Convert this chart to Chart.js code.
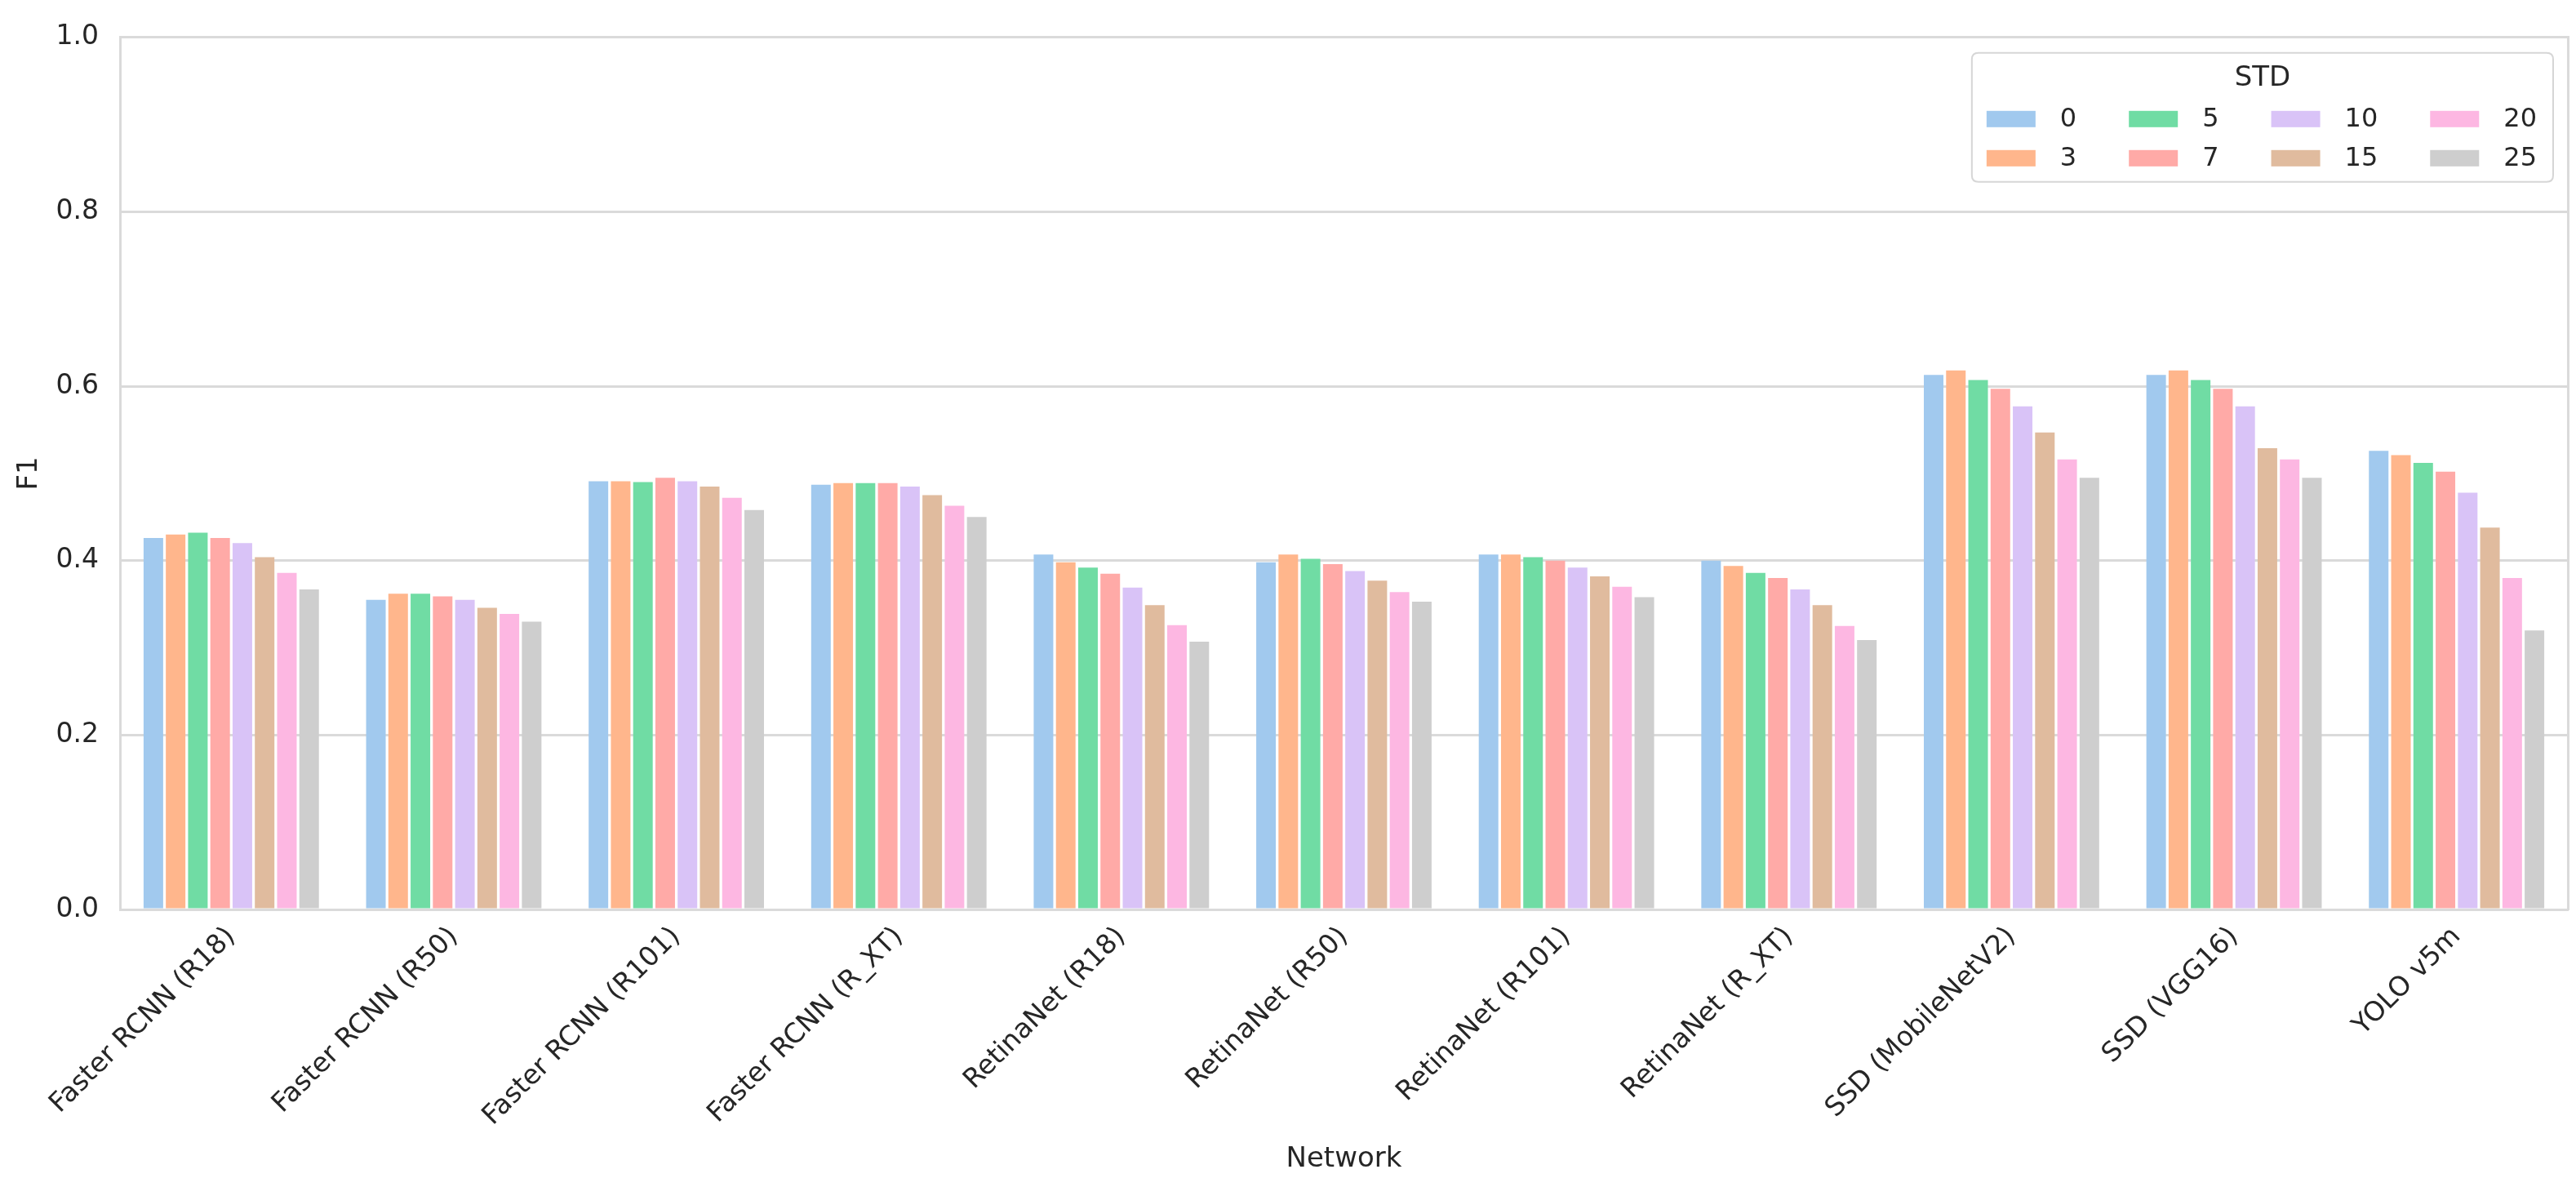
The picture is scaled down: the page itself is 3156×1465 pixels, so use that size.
<!DOCTYPE html>
<html>
<head>
<meta charset="utf-8">
<script src="https://cdn.jsdelivr.net/npm/chart.js@4"></script>
<style>
  html, body { margin: 0; padding: 0; background: #ffffff; }
  #wrap { width: 3156px; height: 1465px; }
</style>
</head>
<body>
<div id="wrap"><canvas id="c" width="3156" height="1465"></canvas></div>
<script>
const categories = ['Faster RCNN (R18)', 'Faster RCNN (R50)', 'Faster RCNN (R101)', 'Faster RCNN (R_XT)',
  'RetinaNet (R18)', 'RetinaNet (R50)', 'RetinaNet (R101)', 'RetinaNet (R_XT)',
  'SSD (MobileNetV2)', 'SSD (VGG16)', 'YOLO v5m'];
const stdLevels = ['0', '3', '5', '7', '10', '15', '20', '25'];
const yTicks = [0.0, 0.2, 0.4, 0.6, 0.8, 1.0];

const std0  = [0.426, 0.355, 0.491, 0.487, 0.407, 0.398, 0.407, 0.400, 0.613, 0.613, 0.526];
const std3  = [0.430, 0.362, 0.491, 0.489, 0.398, 0.407, 0.407, 0.394, 0.618, 0.618, 0.521];
const std5  = [0.432, 0.362, 0.490, 0.489, 0.392, 0.402, 0.404, 0.386, 0.607, 0.607, 0.512];
const std7  = [0.426, 0.359, 0.495, 0.489, 0.385, 0.396, 0.400, 0.380, 0.597, 0.597, 0.502];
const std10 = [0.420, 0.355, 0.491, 0.485, 0.369, 0.388, 0.392, 0.367, 0.577, 0.577, 0.478];
const std15 = [0.404, 0.346, 0.485, 0.475, 0.349, 0.377, 0.382, 0.349, 0.547, 0.529, 0.438];
const std20 = [0.386, 0.339, 0.472, 0.463, 0.326, 0.364, 0.370, 0.325, 0.516, 0.516, 0.380];
const std25 = [0.367, 0.330, 0.458, 0.450, 0.307, 0.353, 0.358, 0.309, 0.495, 0.495, 0.320];

const seriesValues = [std0, std3, std5, std7, std10, std15, std20, std25];
const palette = ['#a1c9ee', '#ffb68c', '#70dca4', '#ffaaa7', '#d9c3f7', '#e0bb9e', '#fdb7e2', '#cecece'];

const FONT = "'DejaVu Sans', 'Liberation Sans', sans-serif";
const TEXT = '#262626';
const GRID = '#dadada';

const datasets = stdLevels.map((lvl, i) => ({
  label: lvl,
  data: seriesValues[i],
  backgroundColor: palette[i],
  borderWidth: 0,
  categoryPercentage: 0.8,
  barPercentage: 0.88
}));

// Legend drawn inside the plot area (matplotlib-style, 4 columns, column-major)
const insideLegend = {
  id: 'insideLegend',
  afterDatasetsDraw(chart) {
    const ctx = chart.ctx;
    const ds = chart.data.datasets;
    const ncol = 4, nrow = Math.ceil(ds.length / ncol);
    const labelFont = '32px ' + FONT;
    const titleFont = '34px ' + FONT;
    const handleW = 60, handleH = 20, textPad = 30, colSpace = 64;
    ctx.save();
    ctx.font = labelFont;
    const colWidths = [];
    for (let c = 0; c < ncol; c++) {
      let w = 0;
      for (let r = 0; r < nrow; r++) {
        const idx = c * nrow + r;
        if (idx < ds.length) w = Math.max(w, ctx.measureText(ds[idx].label).width);
      }
      colWidths.push(w);
    }
    const boxRight = chart.chartArea.right - 18;
    const boxTop = chart.chartArea.top + 19;
    const boxBottom = boxTop + 158;
    let contentW = 0;
    colWidths.forEach((w, c) => { contentW += handleW + textPad + w + (c < ncol - 1 ? colSpace : 0); });
    const boxW = contentW + 18 + 20;
    const boxLeft = boxRight - boxW;
    // box
    const rad = 8;
    ctx.beginPath();
    ctx.moveTo(boxLeft + rad, boxTop);
    ctx.lineTo(boxRight - rad, boxTop);
    ctx.quadraticCurveTo(boxRight, boxTop, boxRight, boxTop + rad);
    ctx.lineTo(boxRight, boxBottom - rad);
    ctx.quadraticCurveTo(boxRight, boxBottom, boxRight - rad, boxBottom);
    ctx.lineTo(boxLeft + rad, boxBottom);
    ctx.quadraticCurveTo(boxLeft, boxBottom, boxLeft, boxBottom - rad);
    ctx.lineTo(boxLeft, boxTop + rad);
    ctx.quadraticCurveTo(boxLeft, boxTop, boxLeft + rad, boxTop);
    ctx.closePath();
    ctx.fillStyle = 'rgba(255,255,255,0.85)';
    ctx.fill();
    ctx.strokeStyle = '#d6d6d6';
    ctx.lineWidth = 2;
    ctx.stroke();
    // title
    ctx.fillStyle = TEXT;
    ctx.font = titleFont;
    ctx.textAlign = 'center';
    ctx.textBaseline = 'middle';
    ctx.fillText('STD', (boxLeft + boxRight) / 2, boxTop + 31);
    // items
    ctx.font = labelFont;
    ctx.textAlign = 'left';
    let x = boxLeft + 18;
    const rowY = [boxTop + 81, boxTop + 129];
    for (let c = 0; c < ncol; c++) {
      for (let r = 0; r < nrow; r++) {
        const idx = c * nrow + r;
        if (idx >= ds.length) continue;
        ctx.fillStyle = ds[idx].backgroundColor;
        ctx.fillRect(x, rowY[r] - handleH / 2, handleW, handleH);
        ctx.fillStyle = TEXT;
        ctx.fillText(ds[idx].label, x + handleW + textPad, rowY[r] + 1);
      }
      x += handleW + textPad + colWidths[c] + colSpace;
    }
    ctx.restore();
  }
};

new Chart(document.getElementById('c'), {
  type: 'bar',
  data: { labels: categories, datasets: datasets },
  options: {
    responsive: false,
    devicePixelRatio: 1,
    animation: false,
    layout: { padding: { top: 38, right: 10, left: 0, bottom: 0 } },
    plugins: {
      legend: { display: false },
      tooltip: { enabled: false },
      title: { display: false }
    },
    scales: {
      x: {
        position: 'bottom',
        grid: { display: false, drawTicks: false },
        border: { display: true, color: GRID, width: 3 },
        ticks: {
          autoSkip: false,
          minRotation: 45,
          maxRotation: 45,
          padding: 14,
          color: TEXT,
          font: { family: FONT, size: 33 }
        },
        title: {
          display: true,
          text: 'Network',
          color: TEXT,
          font: { family: FONT, size: 34 },
          padding: { top: 0, bottom: 24 }
        },
        afterFit(scale) { scale.height = 351; }
      },
      x2: {
        position: 'top',
        grid: { display: false, drawTicks: false },
        border: { display: true, color: GRID, width: 3 },
        ticks: { display: false },
        afterFit(scale) { scale.height = 0; }
      },
      y: {
        min: 0,
        max: 1,
        afterBuildTicks(scale) { scale.ticks = yTicks.map(v => ({ value: v })); },
        grid: { display: true, color: GRID, lineWidth: 3, drawTicks: false },
        border: { display: true, color: GRID, width: 3 },
        ticks: {
          padding: 26,
          color: TEXT,
          font: { family: FONT, size: 33 },
          callback: (v) => Number(v).toFixed(1)
        },
        title: {
          display: true,
          text: 'F1',
          color: TEXT,
          font: { family: FONT, size: 34 },
          padding: { top: 16, bottom: 0 }
        },
        afterFit(scale) { scale.width = 147; }
      },
      y2: {
        position: 'right',
        min: 0,
        max: 1,
        grid: { display: false, drawTicks: false },
        border: { display: true, color: GRID, width: 3 },
        ticks: { display: false },
        afterFit(scale) { scale.width = 0; }
      }
    }
  },
  plugins: [insideLegend]
});
</script>
</body>
</html>
